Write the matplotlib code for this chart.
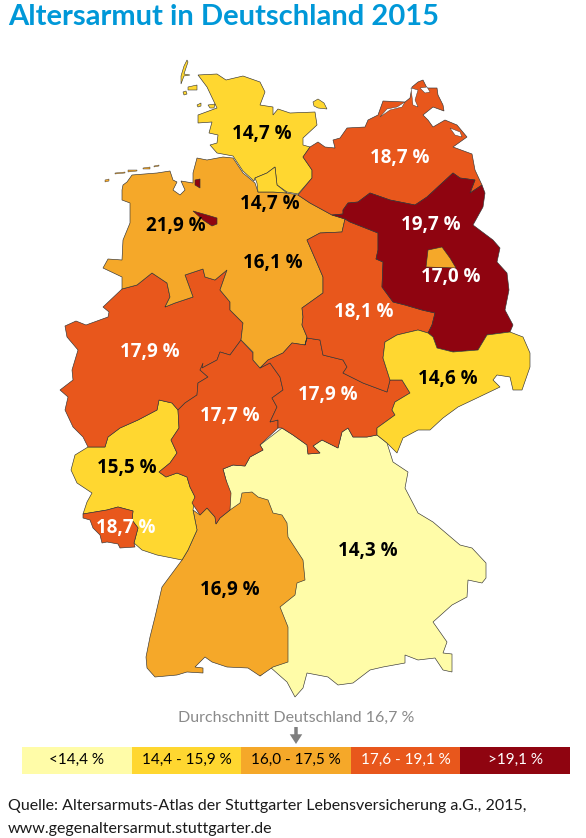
import matplotlib

matplotlib.use("Agg")

import matplotlib.pyplot as plt
import numpy as np
from matplotlib.patches import Polygon

# Umrisse in Bildpixeln
bayern = [(282,428),(293,435),(307,445),(308,454),(320,453),(313,446),(322,440),(338,448),(342,432),(348,428),(353,437),(367,437),(377,435),(387,443),(393,462),(408,472),(405,488),(418,513),(433,522),(460,545),(472,548),(486,563),(486,578),(482,583),(468,580),(467,597),(452,605),(433,622),(447,642),(443,653),(452,654),(452,672),(443,670),(435,658),(418,660),(405,655),(405,663),(383,667),(370,670),(353,683),(338,685),(328,677),(307,673),(303,688),(295,697),(287,682),(270,667),(260,676),(260,600),(230,512),(226,480),(223,469),(233,465),(245,466),(250,457),(263,450),(260,445)]
bawue = [(193,510),(200,515),(207,508),(215,517),(216,524),(220,518),(230,510),(240,503),(242,493),(252,492),(258,497),(268,500),(273,513),(282,515),(287,523),(288,537),(303,560),(305,580),(297,583),(295,595),(280,607),(288,627),(288,662),(273,667),(260,676),(248,668),(227,667),(212,662),(205,657),(195,667),(203,668),(203,673),(187,672),(177,675),(155,677),(147,668),(146,657),(150,637),(155,617),(162,587),(182,560),(188,550),(197,530)]
rlp = [(159,400),(172,403),(178,410),(179,428),(171,440),(177,453),(170,463),(159,472),(166,477),(177,473),(187,477),(190,487),(195,497),(193,510),(197,530),(188,550),(182,560),(157,555),(142,550),(134,543),(138,528),(132,520),(133,511),(118,507),(107,510),(83,514),(87,502),(92,493),(77,483),(71,470),(75,455),(88,447),(105,447),(108,437),(120,428),(138,420),(157,410)]
saarland = [(83,514),(107,510),(118,507),(133,511),(132,520),(138,528),(134,543),(135,547),(120,548),(118,544),(107,542),(102,543),(100,535),(93,528),(90,520),(83,518)]
hessen = [(178,410),(185,403),(197,395),(198,383),(208,377),(200,370),(203,363),(202,368),(217,360),(220,352),(230,355),(241,340),(253,353),(253,360),(260,368),(270,363),(280,377),(283,390),(272,398),(277,407),(270,422),(278,420),(278,428),(260,445),(263,450),(250,457),(245,466),(233,465),(223,469),(226,480),(231,493),(230,510),(220,518),(216,524),(215,517),(207,508),(200,515),(192,503),(195,497),(190,487),(187,477),(177,473),(166,477),(159,472),(170,463),(177,453),(171,440),(179,428)]
nrw = [(65,326),(76,321),(86,325),(108,317),(109,312),(103,307),(122,289),(137,285),(152,273),(167,283),(170,297),(165,307),(175,303),(193,297),(185,275),(203,269),(205,277),(215,280),(227,270),(220,290),(230,302),(230,310),(243,323),(241,340),(230,355),(220,352),(217,360),(202,368),(200,370),(208,377),(198,383),(197,395),(185,403),(178,410),(172,403),(159,400),(157,410),(138,420),(120,428),(108,437),(105,447),(88,447),(83,437),(73,427),(65,410),(68,397),(60,390),(73,380),(72,370),(78,350),(67,337)]
niedersachsen = [(122,190),(123,185),(127,182),(132,175),(157,173),(170,171),(173,180),(177,182),(173,190),(180,195),(185,190),(181,181),(193,183),(193,173),(197,158),(207,160),(223,157),(233,158),(243,173),(255,183),(258,192),(273,192),(287,193),(298,195),(310,203),(332,215),(345,219),(342,232),(320,233),(307,240),(317,263),(323,277),(323,293),(302,308),(303,317),(302,325),(307,337),(305,345),(292,343),(283,353),(268,360),(260,368),(253,360),(253,352),(241,340),(243,323),(230,310),(230,302),(220,290),(227,270),(215,280),(205,277),(203,269),(185,275),(193,297),(175,303),(165,307),(170,297),(167,283),(152,273),(137,285),(122,289),(122,277),(103,268),(108,259),(122,260),(123,240),(130,223),(130,203),(122,200)]
ostfriesland = [[(105,180),(109,179),(109,181),(105,182)],[(115,173),(125,172),(125,173),(115,174)],[(128,170),(137,170),(137,171),(128,172)],[(143,168),(150,167),(150,169),(143,169)],[(154,166),(159,165),(159,166),(154,167)]]
bremen = [(193,211),(207,215),(217,218),(217,224),(212,226),(203,220)]
bremerhaven = [(195,180),(200,179),(200,188),(195,185)]
schleswig = [(198,75),(217,74),(226,80),(243,76),(260,82),(265,92),(260,105),(273,107),(273,115),(278,109),(290,113),(315,112),(317,125),(303,138),(303,145),(310,147),(303,157),(312,170),(312,178),(298,194),(287,192),(277,185),(275,167),(267,173),(255,178),(254,181),(243,171),(233,156),(217,153),(210,145),(217,143),(218,135),(209,133),(212,122),(198,123),(198,115),(217,108),(207,87)]
hamburg = [(255,178),(267,173),(275,167),(277,185),(287,193),(273,192),(258,192),(257,183)]
inseln_sh = [[(187,60),(184,66),(181,76),(181,84),(184,76),(190,75),(184,74),(188,62)],[(188,87),(197,85),(197,90),(188,90)],[(183,92),(186,91),(187,94),(184,95)],[(197,105),(201,103),(201,106),(198,107)],[(208,105),(215,104),(214,108),(210,108)],[(313,102),(318,99),(324,103),(327,109),(318,108),(314,106)]]
thueringen = [(292,343),(305,345),(307,338),(320,340),(323,355),(343,360),(347,367),(343,373),(363,383),(387,392),(390,380),(402,380),(410,393),(395,402),(392,410),(395,415),(377,428),(377,435),(367,437),(353,437),(348,428),(342,432),(338,448),(322,440),(313,446),(320,453),(308,454),(307,445),(293,435),(282,428),(278,428),(278,420),(270,422),(277,407),(272,398),(283,390),(280,377),(270,363),(260,368),(268,360),(283,353)]
sachsen_anhalt = [(345,219),(350,222),(378,233),(378,250),(376,259),(383,262),(382,287),(393,302),(405,305),(422,310),(435,313),(432,325),(428,333),(418,330),(397,335),(385,342),(383,358),(390,380),(387,392),(363,383),(343,373),(347,367),(343,360),(323,355),(320,340),(307,338),(305,345),(307,337),(302,325),(303,317),(302,308),(323,293),(323,277),(317,263),(307,240),(320,233),(342,232)]
meckpomm = [(298,195),(312,178),(312,170),(303,157),(310,147),(318,142),(325,147),(335,148),(333,140),(340,138),(347,128),(365,127),(368,120),(378,115),(383,101),(405,102),(410,98),(412,87),(418,82),(423,80),(427,88),(437,88),(438,95),(443,105),(444,111),(433,107),(423,115),(428,120),(433,127),(445,120),(457,125),(467,137),(453,147),(472,154),(475,170),(482,185),(470,193),(475,180),(460,178),(453,173),(440,185),(427,197),(415,205),(390,200),(370,193),(358,202),(348,203),(343,210),(343,214),(332,215),(310,203)]
wasser_mv = [[(380,117),(387,109),(397,107),(405,102),(402,107),(390,110)],[(411,88),(413,105),(418,107),(415,100),(418,90)],[(420,88),(425,93),(430,92),(427,87)],[(450,128),(460,132),(462,137),(455,135)]]
brandenburg = [(332,215),(343,214),(343,210),(348,203),(358,202),(370,193),(390,200),(415,205),(427,197),(440,185),(453,173),(460,178),(475,180),(470,193),(482,185),(485,193),(483,207),(473,225),(493,240),(500,248),(497,262),(507,273),(509,290),(505,310),(513,325),(510,332),(487,335),(478,350),(453,352),(437,348),(433,337),(428,333),(432,325),(435,313),(422,310),(405,305),(393,302),(382,287),(383,262),(376,259),(378,250),(378,233),(350,222),(345,219)]
berlin = [(426,267),(428,250),(442,247),(450,258),(456,268)]
sachsen = [(385,342),(397,335),(418,330),(428,333),(433,337),(437,348),(453,352),(478,350),(487,335),(510,332),(523,337),(530,353),(530,367),(522,390),(513,390),(510,377),(497,375),(493,380),(500,387),(477,398),(458,407),(443,418),(430,430),(418,430),(403,438),(397,453),(387,443),(377,435),(377,428),(395,415),(392,410),(395,402),(410,393),(402,380),(390,380),(383,358)]

# Zeichenreihenfolge: Flaechen, die spaeter kommen, liegen oben
laender = [bayern, bawue, rlp, saarland, nrw, hessen, niedersachsen, bremen, bremerhaven,
           schleswig, hamburg, thueringen, sachsen_anhalt, meckpomm, brandenburg, berlin, sachsen]
werte = [14.3, 16.9, 15.5, 18.7, 17.9, 17.7, 16.1, 21.9, 21.9, 14.7, 14.7, 17.9, 18.1, 18.7, 19.7, 17.0, 14.6]

label_texte = ["14,7 %", "18,7 %", "14,7 %", "21,9 %", "16,1 %", "19,7 %", "17,0 %", "18,1 %",
               "17,9 %", "14,6 %", "17,7 %", "17,9 %", "15,5 %", "18,7 %", "16,9 %", "14,3 %"]
label_x = [262, 400, 270, 176, 273, 431, 451, 364, 150, 448, 230, 328, 127, 126, 230, 368]
label_y = [134, 158, 204, 226, 263, 225, 277, 312, 352, 379, 416, 395, 468, 528, 590, 551]
label_weiss = [0, 1, 0, 0, 0, 1, 1, 1, 1, 0, 1, 1, 0, 1, 0, 0]

grenzen = [14.35, 15.95, 17.55, 19.15]
farben = ["#FFFCA8", "#FFD730", "#F5A829", "#E8571C", "#8F0410"]
legende = ["<14,4 %", "14,4 - 15,9 %", "16,0 - 17,5 %", "17,6 - 19,1 %", ">19,1 %"]
legende_text = ["black", "black", "black", "white", "white"]


def farbe(wert):
    return farben[int(np.digitize(wert, grenzen))]


fig = plt.figure(figsize=(5.86, 8.38), dpi=100)
ax = fig.add_axes([0, 0, 1, 1])
ax.set_xlim(0, 586)
ax.set_ylim(838, 0)
ax.axis("off")

for umriss, wert in zip(laender, werte):
    ax.add_patch(Polygon(umriss, closed=True, facecolor=farbe(wert), edgecolor="#333333", linewidth=0.45))

for insel in inseln_sh:
    ax.add_patch(Polygon(insel, closed=True, facecolor=farbe(14.7), edgecolor="#333333", linewidth=0.4))
for insel in ostfriesland:
    ax.add_patch(Polygon(insel, closed=True, facecolor=farbe(16.1), edgecolor="#333333", linewidth=0.3))
for flaeche in wasser_mv:
    ax.add_patch(Polygon(flaeche, closed=True, facecolor="white", edgecolor="#333333", linewidth=0.3))

for text, x, y, weiss in zip(label_texte, label_x, label_y, label_weiss):
    ax.text(x, y, text, ha="center", va="center", fontsize=13.5, fontweight="bold",
            family="Open Sans", color="white" if weiss else "black")

ax.text(8, 17, "Altersarmut in Deutschland 2015", ha="left", va="center", fontsize=21,
        fontweight="bold", family="Lato", color="#0098D8")

# Legende
links = np.arange(5) * 109.6 + 22
for x, f, text, c in zip(links, farben, legende, legende_text):
    ax.bar(x, 27, width=109.6, bottom=747, align="edge", color=f, linewidth=0)
    ax.text(x + 54.8, 760, text, ha="center", va="center", fontsize=11, family="Lato", color=c)

ax.text(296, 718, "Durchschnitt Deutschland 16,7 %", ha="center", va="center", fontsize=11.5,
        family="Lato", color="#8A8A8A")
ax.annotate("", xy=(296, 744), xytext=(296, 727),
            arrowprops=dict(width=2.5, headwidth=9, headlength=7, color="#7F7F7F", linewidth=0))

ax.text(8, 806, "Quelle: Altersarmuts-Atlas der Stuttgarter Lebensversicherung a.G., 2015,",
        ha="left", va="center", fontsize=11.5, family="Lato", color="#1A1A1A")
ax.text(8, 829, "www.gegenaltersarmut.stuttgarter.de", ha="left", va="center", fontsize=11.5,
        family="Lato", color="#1A1A1A")

fig.savefig("out.png", dpi=100)
